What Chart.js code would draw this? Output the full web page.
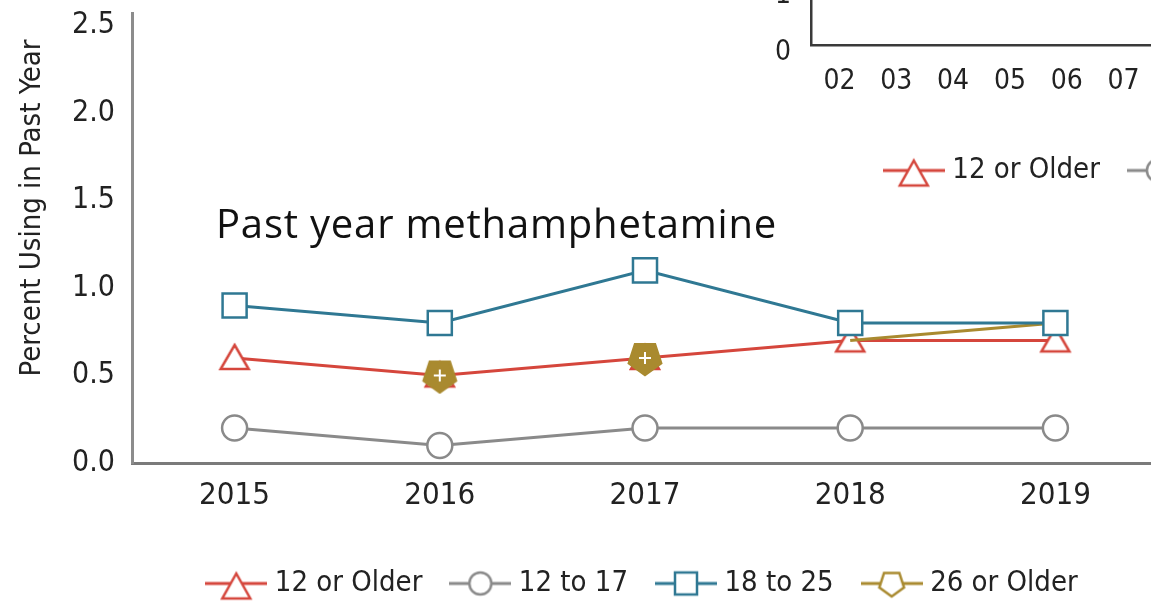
<!DOCTYPE html>
<html>
<head>
<meta charset="utf-8">
<script src="https://cdn.jsdelivr.net/npm/chart.js@4.4.0/dist/chart.umd.min.js"></script>
<style>
  html, body { margin: 0; padding: 0; background: #fff; }
  body { width: 1151px; height: 602px; overflow: hidden; position: relative;
         font-family: 'Liberation Sans Narrow', 'DejaVu Sans Condensed', sans-serif; }
  #mainChart { position: absolute; left: 0; top: 0; }
  #insetChart { position: absolute; left: 700px; top: -140px; }
  .y-title { position: absolute; left: -170px; top: 193px; width: 400px; font-size: 29px; line-height: 30px;
             text-align: center; color: #222; transform: rotate(-90deg); white-space: nowrap; }
  .note { position: absolute; left: 216px; top: 203px; font-family: 'Open Sans', sans-serif; font-size: 40px;
          line-height: 40px; letter-spacing: 0.8px; color: #111; white-space: nowrap; }
</style>
</head>
<body>
<canvas id="insetChart" width="1134" height="335"></canvas>
<canvas id="mainChart" width="1158" height="608"></canvas>
<div class="y-title">Percent Using in Past Year</div>
<div class="note">Past year methamphetamine</div>
<script>
// data
const years = ["2015", "2016", "2017", "2018", "2019"];
const seriesNames = ["12 or Older", "12 to 17", "18 to 25", "26 or Older"];
const olderThan12 = [0.6, 0.5, 0.6, 0.7, 0.7];
const age12to17 = [0.2, 0.1, 0.2, 0.2, 0.2];
const age18to25 = [0.9, 0.8, 1.1, 0.8, 0.8];
const olderThan26 = [0.6, 0.5, 0.6, 0.7, 0.8];
const yTicks = [0, 0.5, 1.0, 1.5, 2.0, 2.5];

// small inset chart in the corner (only its bottom edge is on the page)
const insetYears = ["02", "03", "04", "05", "06", "07", "08", "09", "10",
                    "11", "12", "13", "14", "15", "16", "17", "18", "19"];
const insetYTicks = [0, 1];

const RED = "#d5463c";
const GRAY = "#8a8a8a";
const BLUE = "#2f7893";
const GOLD = "#a98a2f";

Chart.defaults.font.family = "'Liberation Sans Narrow', 'DejaVu Sans Condensed', sans-serif";
Chart.defaults.color = "#222";

// ===============================
// marker pictures
// ===============================
function marker(shape, color, filled, withLine) {
  const c = document.createElement("canvas");
  c.width = withLine ? 62 : 38;
  c.height = 38;
  const ctx = c.getContext("2d");
  const cx = c.width / 2, cy = c.height / 2;

  if (withLine) {
    ctx.strokeStyle = color;
    ctx.lineWidth = 3;
    ctx.beginPath();
    ctx.moveTo(0, cy);
    ctx.lineTo(c.width, cy);
    ctx.stroke();
  }

  ctx.lineWidth = 2.5;
  ctx.strokeStyle = color;
  ctx.fillStyle = filled ? color : "#fff";
  ctx.beginPath();
  if (shape === "triangle") {
    // legend triangle hangs below the line, plot triangle is centred
    const top = withLine ? cy - 10 : cy - 13;
    const bottom = withLine ? cy + 15 : cy + 11;
    ctx.moveTo(cx, top);
    ctx.lineTo(cx + 14, bottom);
    ctx.lineTo(cx - 14, bottom);
    ctx.closePath();
  } else if (shape === "circle") {
    ctx.arc(cx, cy, 11, 0, Math.PI * 2);
  } else if (shape === "rect") {
    ctx.rect(cx - 11, cy - 11, 22, 22);
  } else {
    const r = withLine ? 13 : 17;
    for (let i = 0; i < 5; i++) {
      const a = Math.PI / 2 + (i * 2 * Math.PI) / 5;
      const px = cx + r * Math.cos(a), py = cy + r * Math.sin(a);
      if (i === 0) ctx.moveTo(px, py);
      else ctx.lineTo(px, py);
    }
    ctx.closePath();
  }
  ctx.fill();
  ctx.stroke();

  if (filled) {
    ctx.strokeStyle = "#fff";
    ctx.lineWidth = 2;
    ctx.beginPath();
    ctx.moveTo(cx - 6, cy);
    ctx.lineTo(cx + 6, cy);
    ctx.moveTo(cx, cy - 6);
    ctx.lineTo(cx, cy + 6);
    ctx.stroke();
  }
  return c;
}

const legendMarkers = [
  marker("triangle", RED, false, true),
  marker("circle", GRAY, false, true),
  marker("rect", BLUE, false, true),
  marker("pentagon", GOLD, false, true),
];
const redTriangle = marker("triangle", RED, false, false);
const goldHollow = marker("pentagon", GOLD, false, false);
const goldFilled = marker("pentagon", GOLD, true, false);

// ===============================
// shared options
// ===============================
function buildOptions(o) {
  return {
    responsive: false,
    animation: false,
    events: [],
    layout: { autoPadding: false, padding: { top: 13, left: 0, right: 0, bottom: 0 } },
    scales: {
      x: {
        offset: true,
        grid: { display: false, drawTicks: false },
        border: { color: o.axisColor, width: o.axisWidth },
        ticks: { font: { size: o.xFont }, padding: o.xPad, color: "#222" },
        afterFit: (s) => {
          s.height = o.xHeight;
          s.paddingLeft = 0;
          s.paddingRight = 0;
        },
      },
      y: {
        min: 0,
        max: o.yMax,
        grid: { display: false, drawTicks: false },
        border: { color: o.yAxisColor, width: o.axisWidth },
        ticks: {
          font: { size: o.yFont },
          padding: o.yPad,
          labelOffset: o.yLabelOffset,
          color: "#222",
          callback: (v) => o.yFormat(v),
        },
        afterBuildTicks: (s) => { s.ticks = o.yTickValues.map((v) => ({ value: v })); },
        afterFit: (s) => {
          s.width = o.yWidth;
          s.paddingTop = 0;
          s.paddingBottom = 0;
        },
      },
    },
    plugins: {
      tooltip: { enabled: false },
      legend: {
        position: "bottom",
        fullSize: false,
        labels: {
          font: { size: 29 },
          color: "#222",
          usePointStyle: true,
          pointStyleWidth: 48,
          padding: 34,
          generateLabels: (chart) =>
            chart.data.datasets.map((ds, i) => ({
              text: ds.label,
              pointStyle: legendMarkers[i],
              datasetIndex: i,
              fontColor: "#222",
              lineWidth: 0,
              strokeStyle: "rgba(0,0,0,0)",
              fillStyle: "rgba(0,0,0,0)",
            })),
        },
      },
    },
  };
}

// ===============================
// main chart
// ===============================
new Chart(document.getElementById("mainChart"), {
  type: "line",
  data: {
    labels: years,
    datasets: [
      {
        label: seriesNames[0],
        data: olderThan12,
        borderColor: RED,
        borderWidth: 3,
        pointStyle: redTriangle,
        pointRadius: 16,
        order: 2,
      },
      {
        label: seriesNames[1],
        data: age12to17,
        borderColor: GRAY,
        borderWidth: 3,
        pointStyle: "circle",
        pointRadius: 12.5,
        pointBorderWidth: 2.5,
        pointBackgroundColor: "#fff",
        pointBorderColor: GRAY,
        order: 3,
      },
      {
        label: seriesNames[2],
        data: age18to25,
        borderColor: BLUE,
        borderWidth: 3,
        pointStyle: "rect",
        pointRadius: 17,
        pointBorderWidth: 2.5,
        pointBackgroundColor: "#fff",
        pointBorderColor: BLUE,
        order: 0,
      },
      {
        label: seriesNames[3],
        data: olderThan26,
        borderColor: GOLD,
        borderWidth: 3,
        // hide the gold line where it runs right under the red one
        segment: {
          borderColor: (c) =>
            olderThan26[c.p0DataIndex] === olderThan12[c.p0DataIndex] &&
            olderThan26[c.p1DataIndex] === olderThan12[c.p1DataIndex]
              ? "rgba(0,0,0,0)"
              : GOLD,
        },
        pointStyle: [goldHollow, goldFilled, goldFilled, goldHollow, goldHollow],
        pointRadius: [0, 16, 16, 0, 0],
        order: 1,
      },
    ],
  },
  options: buildOptions({
    axisColor: "#7a7a7a",
    yAxisColor: "#8c8c8c",
    axisWidth: 3,
    xFont: 31,
    xPad: 14,
    xHeight: 72,
    yFont: 30,
    yPad: 17,
    yWidth: 132,
    yMax: 2.57,
    yLabelOffset: 0,
    yTickValues: yTicks,
    yFormat: (v) => v.toFixed(1),
  }),
});

// ===============================
// inset chart (cut off by the page edge)
// ===============================
new Chart(document.getElementById("insetChart"), {
  type: "line",
  data: {
    labels: insetYears,
    datasets: seriesNames.map((name) => ({ label: name, data: [] })),
  },
  options: buildOptions({
    axisColor: "#3a3a3a",
    yAxisColor: "#3a3a3a",
    axisWidth: 2.5,
    xFont: 28,
    xPad: 20,
    xHeight: 77,
    yFont: 28,
    yPad: 20,
    yWidth: 111,
    yMax: 3,
    yLabelOffset: 8,
    yTickValues: insetYTicks,
    yFormat: (v) => String(v),
  }),
});
</script>
</body>
</html>
